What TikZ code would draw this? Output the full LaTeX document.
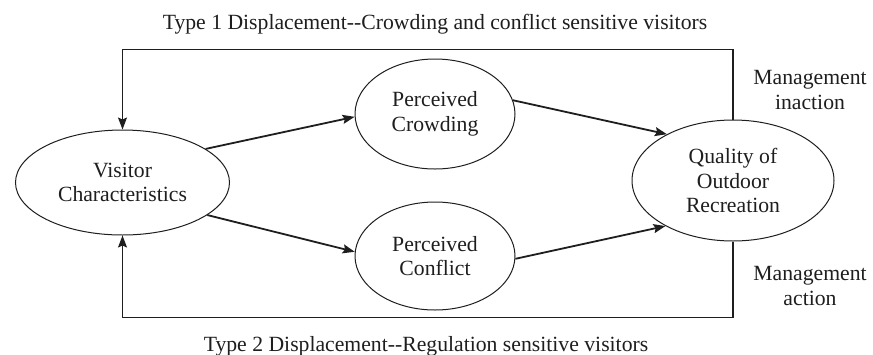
\documentclass[tikz,border=0pt]{standalone}
\usepackage{fontspec}
\setmainfont{Liberation Serif}
\usetikzlibrary{shapes.geometric,arrows.meta}
\definecolor{ink}{HTML}{1E1E1E}
\begin{document}
\begin{tikzpicture}[x=1pt,y=-1pt,
  txt/.style={font=\fontsize{21.7}{24.5}\selectfont, text=ink, align=center},
  oval/.style={ellipse, draw=ink, line width=1pt, inner sep=0pt, txt},
  arr/.style={draw=ink, line width=1.8pt, -{Stealth[length=12pt,width=9pt,inset=2pt]}},
  loop/.style={draw=ink, line width=1.3pt, -{Stealth[length=12pt,width=9pt,inset=2pt]}}]
\useasboundingbox (0,0) rectangle (873,354);
\node[oval, minimum width=214pt, minimum height=105pt] (vis) at (122.5,182.5) {Visitor\\Characteristics};
\node[oval, minimum width=160pt, minimum height=110pt] (crowd) at (435,114) {Perceived\\Crowding};
\node[oval, minimum width=160pt, minimum height=108pt] (conf) at (435,256) {Perceived\\Conflict};
\node[oval, minimum width=202pt, minimum height=121pt] (qual) at (733,180.5) {Quality of\\Outdoor\\Recreation};
\node[txt, anchor=base] (t1) at (435,29.3) {Type 1 Displacement-{}-Crowding and conflict sensitive visitors};
\node[txt, anchor=base] (t2) at (426,351) {Type 2 Displacement-{}-Regulation sensitive visitors};
\node[txt] (mi) at (810,90) {Management\\inaction};
\node[txt] (ma) at (810,286) {Management\\action};
\draw[arr] (vis.22) -- (crowd.182);
\draw[arr] (vis.-21) -- (conf.177);
\draw[arr] (crowd.10) -- (qual.145);
\draw[arr] (conf.-2) -- (qual.214);
\coordinate (tr) at (733,49.3);
\coordinate (br) at (733,317.3);
\draw[loop] (qual.north) -- (tr) -| (vis.north);
\draw[loop] (qual.south) -- (br) -| (vis.south);
\end{tikzpicture}
\end{document}
